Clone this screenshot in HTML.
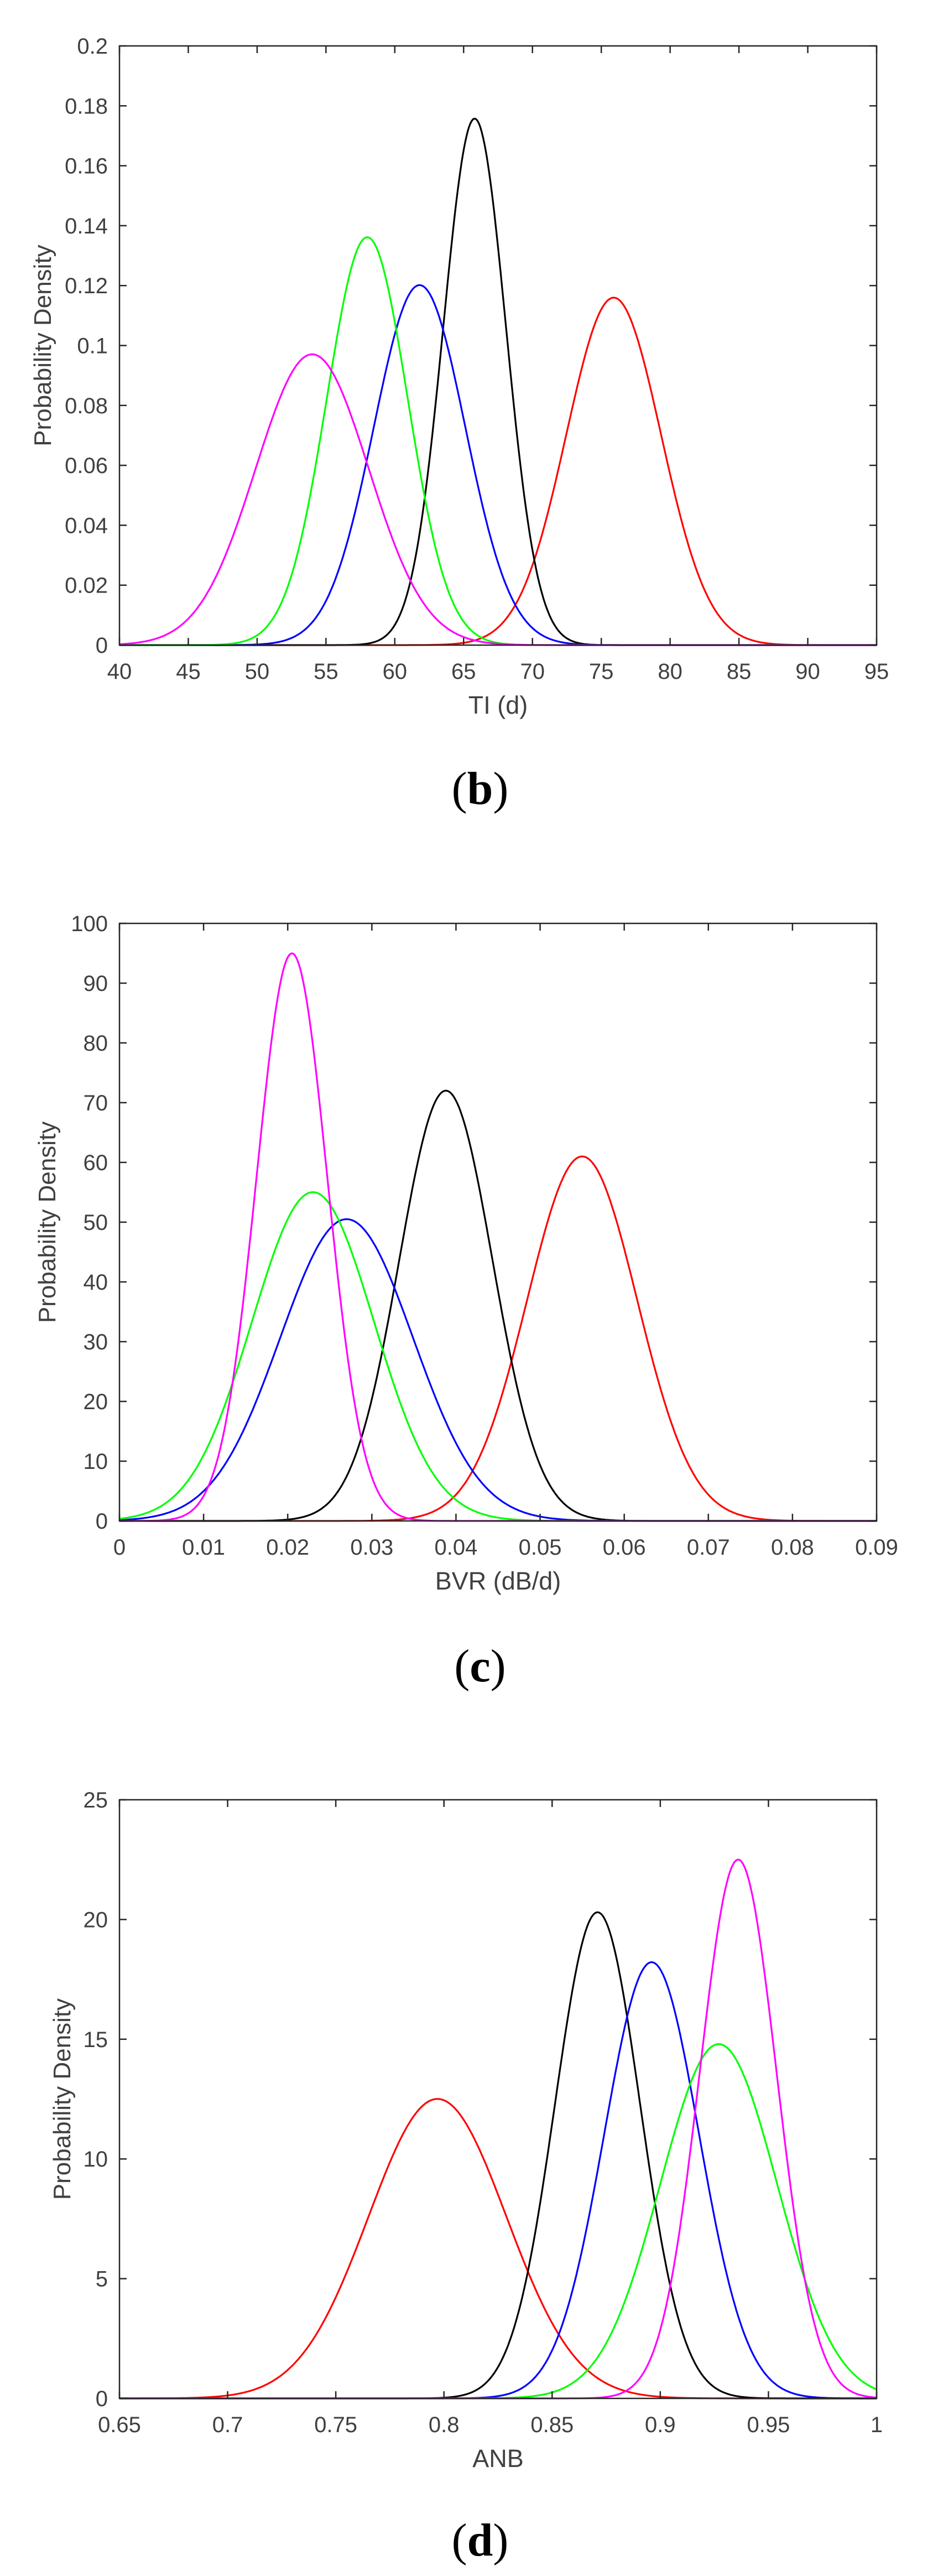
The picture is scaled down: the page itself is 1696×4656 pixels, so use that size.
<!DOCTYPE html>
<html><head><meta charset="utf-8">
<style>
html,body{margin:0;padding:0;background:#fff;}
svg{display:block;}
</style></head>
<body>
<svg id="s" xmlns="http://www.w3.org/2000/svg" width="1696" height="4656" viewBox="0 0 1696 4656">
<rect width="1696" height="4656" fill="#fff"/>
</svg>
<script>
const NS="http://www.w3.org/2000/svg";
const svg=document.getElementById('s');
function el(tag,attrs,txt){const e=document.createElementNS(NS,tag);for(const k in attrs)e.setAttribute(k,attrs[k]);if(txt!==undefined)e.textContent=txt;svg.appendChild(e);return e;}
const L=216,R=1585;
const plots=[
 {top:83,bot:1166,xmin:40,xmax:95,xstep:5,ymin:0,ymax:0.2,ystep:0.02,xl:"TI (d)",cap:"b",
  xfmt:v=>String(Math.round(v)),yfmt:v=>{let s=(+v.toFixed(2)).toString();return s;},
  series:[["#ff0000",75.9,3.44],["#000000",65.8,2.27],["#0000ff",61.8,3.32],["#00ff00",58,2.93],["#ff00ff",54,4.11]]},
 {top:1669,bot:2749,xmin:0,xmax:0.09,xstep:0.01,ymin:0,ymax:100,ystep:10,xl:"BVR (dB/d)",cap:"c",
  xfmt:v=>(+v.toFixed(2)).toString(),yfmt:v=>String(Math.round(v)),
  series:[["#ff0000",0.055,0.00654],["#000000",0.0388,0.00554],["#0000ff",0.027,0.0079],["#00ff00",0.023,0.00725],["#ff00ff",0.0205,0.0042]]},
 {top:3253,bot:4335,xmin:0.65,xmax:1,xstep:0.05,ymin:0,ymax:25,ystep:5,xl:"ANB",cap:"d",
  xfmt:v=>(+v.toFixed(2)).toString(),yfmt:v=>String(Math.round(v)),
  series:[["#ff0000",0.797,0.0319],["#000000",0.871,0.01965],["#0000ff",0.896,0.0219],["#00ff00",0.927,0.02696],["#ff00ff",0.936,0.01773]]}
];
const capBase=[1453,3039,4619];
plots.forEach((p,i)=>{
 const X=v=>L+(v-p.xmin)/(p.xmax-p.xmin)*(R-L);
 const Y=v=>p.bot-(v-p.ymin)/(p.ymax-p.ymin)*(p.bot-p.top);
 // curves
 p.series.forEach(([c,m,s])=>{
  let d="";const N=600;
  for(let k=0;k<=N;k++){const x=p.xmin+(p.xmax-p.xmin)*k/N;const y=Math.exp(-0.5*((x-m)/s)**2)/(s*Math.sqrt(2*Math.PI));
   d+=(k?"L":"M")+X(x).toFixed(1)+" "+Math.max(Y(Math.min(y,p.ymax)),p.top).toFixed(1);}
  el("path",{d:d,fill:"none",stroke:c,"stroke-width":3.2,"stroke-linejoin":"round"});
 });
 // box
 el("rect",{x:L,y:p.top,width:R-L,height:p.bot-p.top,fill:"none",stroke:"#262626","stroke-width":2.5});
 // x ticks
 const nx=Math.round((p.xmax-p.xmin)/p.xstep);
 for(let k=0;k<=nx;k++){const v=p.xmin+k*p.xstep;const x=X(v);
  el("line",{x1:x,y1:p.bot,x2:x,y2:p.bot-13,stroke:"#262626","stroke-width":2.5});
  el("line",{x1:x,y1:p.top,x2:x,y2:p.top+13,stroke:"#262626","stroke-width":2.5});
  el("text",{x:x,y:p.bot+61,"text-anchor":"middle","font-family":"Liberation Sans, sans-serif","font-size":40,fill:"#404040"},p.xfmt(v));
 }
 const ny=Math.round((p.ymax-p.ymin)/p.ystep);
 for(let k=0;k<=ny;k++){const v=p.ymin+k*p.ystep;const y=Y(v);
  el("line",{x1:L,y1:y,x2:L+13,y2:y,stroke:"#262626","stroke-width":2.5});
  el("line",{x1:R,y1:y,x2:R-13,y2:y,stroke:"#262626","stroke-width":2.5});
  el("text",{x:195,y:y+14,"text-anchor":"end","font-family":"Liberation Sans, sans-serif","font-size":40,fill:"#404040"},p.yfmt(v));
 }
 // x label
 el("text",{x:(L+R)/2,y:p.bot+124,"text-anchor":"middle","font-family":"Liberation Sans, sans-serif","font-size":45,fill:"#404040"},p.xl);
 // y label
 const cy=(p.top+p.bot)/2;const lx=[92,100,127][i];
 el("text",{x:lx,y:cy,"text-anchor":"middle",transform:`rotate(-90 ${lx} ${cy})`,"font-family":"Liberation Sans, sans-serif","font-size":44,fill:"#404040"},"Probability Density");
 // caption
 const t=el("text",{x:868,y:capBase[i],"text-anchor":"middle","font-family":"Liberation Serif, serif","font-size":84,fill:"#000"});
 const a=document.createElementNS(NS,"tspan");a.textContent="(";t.appendChild(a);
 const b=document.createElementNS(NS,"tspan");b.setAttribute("font-weight","bold");b.textContent=p.cap;t.appendChild(b);
 const c=document.createElementNS(NS,"tspan");c.textContent=")";t.appendChild(c);
});
</script>
</body></html>
